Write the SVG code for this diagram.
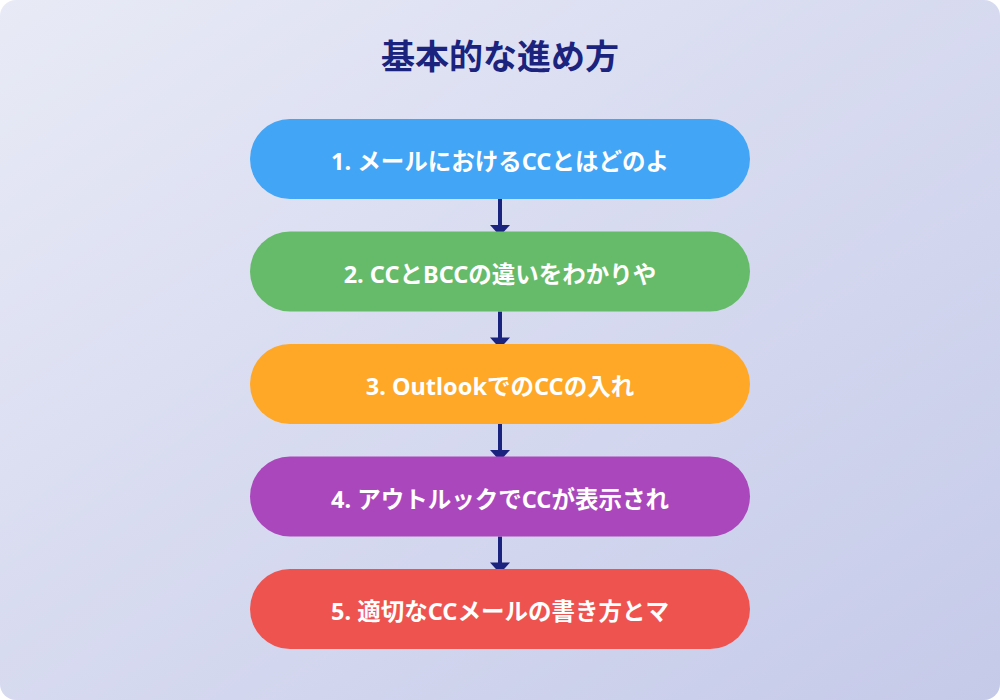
<svg xmlns="http://www.w3.org/2000/svg" width="1000" height="700" viewBox="0 0 1000 700">
<defs>
<linearGradient id="bg" x1="0" y1="0" x2="1" y2="1">
<stop offset="0" stop-color="#E8EAF6"/>
<stop offset="1" stop-color="#C5CAE9"/>
</linearGradient>
<style>
.title{font-family:"Noto Sans CJK JP","Noto Sans",sans-serif;font-weight:700;font-size:34px;fill:#1A237E;text-anchor:middle}
.label{font-family:"Noto Sans","Noto Sans CJK JP",sans-serif;font-weight:700;font-size:23.5px;fill:#FFFFFF;text-anchor:middle}
.conn{stroke:#1A237E;stroke-width:4;fill:none}
.head{fill:#1A237E}
</style>
</defs>
<rect x="0" y="0" width="1000" height="700" fill="#FFFFFF"/>
<rect x="0" y="0" width="1000" height="700" rx="16" fill="url(#bg)"/>
<text class="title" x="500" y="69">基本的な進め方</text>
<g id="connectors">
<line class="conn" x1="500" y1="199" x2="500" y2="226"/>
<polygon class="head" points="490,225 510,225 500,236"/>
<line class="conn" x1="500" y1="311.5" x2="500" y2="338.5"/>
<polygon class="head" points="490,337.5 510,337.5 500,348.5"/>
<line class="conn" x1="500" y1="424" x2="500" y2="451"/>
<polygon class="head" points="490,450 510,450 500,461"/>
<line class="conn" x1="500" y1="536.5" x2="500" y2="563.5"/>
<polygon class="head" points="490,562.5 510,562.5 500,573.5"/>
</g>
<g id="node1">
<rect x="250" y="119" width="500" height="80" rx="40" fill="#42A5F5"/>
<text class="label" x="500" y="170">1. メールにおけるCCとはどのよ</text>
</g>
<g id="node2">
<rect x="250" y="231.5" width="500" height="80" rx="40" fill="#66BB6A"/>
<text class="label" x="500" y="282.5">2. CCとBCCの違いをわかりや</text>
</g>
<g id="node3">
<rect x="250" y="344" width="500" height="80" rx="40" fill="#FFA726"/>
<text class="label" x="500" y="395">3. OutlookでのCCの入れ</text>
</g>
<g id="node4">
<rect x="250" y="456.5" width="500" height="80" rx="40" fill="#AB47BC"/>
<text class="label" x="500" y="507.5">4. アウトルックでCCが表示され</text>
</g>
<g id="node5">
<rect x="250" y="569" width="500" height="80" rx="40" fill="#EF5350"/>
<text class="label" x="500" y="620">5. 適切なCCメールの書き方とマ</text>
</g>
</svg>
